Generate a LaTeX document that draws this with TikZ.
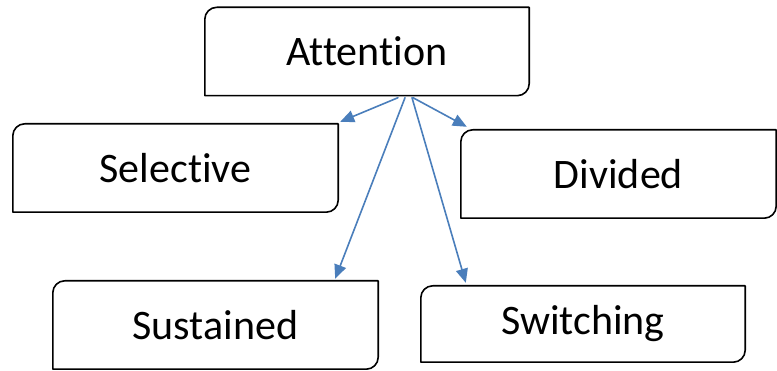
\documentclass[tikz,border=0pt]{standalone}
\usepackage{fontspec}
\setmainfont{Carlito}[Ligatures=NoCommon]
\usetikzlibrary{arrows.meta}
\definecolor{arrowblue}{HTML}{4A7EBB}
\tikzset{
  every picture/.style={line join=round,line cap=round},
  box/.style={minimum width=324pt,minimum height=88pt,inner sep=0pt,
    font=\fontsize{42}{50}\selectfont},
  boxline/.style={line width=1.6pt,black},
  link/.style={arrowblue,line width=1.6pt,-{Triangle[length=14pt,width=12pt]}},
}
\begin{document}
\begin{tikzpicture}[x=1pt,y=-1pt]
\useasboundingbox (0,0) rectangle (777,371);
\node[box] (att) at (367,51.5) {Attention};
\node[box,minimum width=325pt] (sel) at (175.5,168) {Selective};
\node[box,minimum width=315pt] (div) at (618.5,174) {Divided};
\node[box,minimum width=325pt] (sus) at (215.5,325) {Sustained};
\node[box,minimum height=76pt] (swi) at (583,324) {Switching};
% boxes: round top left and bottom right corners only
\foreach \n in {att,sel,div,sus,swi}
  \draw[boxline](\n.south west)--([yshift=-12pt]\n.north west)
    arc[start angle=180,end angle=90,radius=12pt]--(\n.north east)
    --([yshift=12pt]\n.south east)arc[start angle=0,end angle=-90,radius=12pt]--cycle;
\draw[link]([xshift=31pt,yshift=-2pt]att.south)--([xshift=2pt,yshift=2pt]sel.north east);
\draw[link]([xshift=38pt,yshift=-2pt]att.south)--([xshift=-43pt,yshift=2pt]sus.north east);
\draw[link]([xshift=45pt,yshift=-2pt]att.south)--([xshift=45pt,yshift=3pt]swi.north west);
\draw[link]([xshift=46pt,yshift=-2pt]att.south)--([xshift=6pt,yshift=3pt]div.north west);
\end{tikzpicture}
\end{document}
